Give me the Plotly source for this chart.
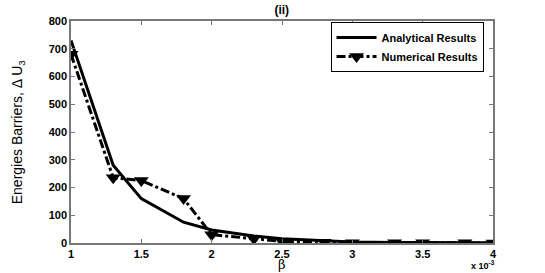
import plotly.graph_objects as go

beta = [1.0, 1.3, 1.5, 1.8, 2.0, 2.3, 2.5, 2.8, 3.0, 3.3, 3.5, 3.8, 4.0]
analytical = [730, 280, 160, 75, 47, 25, 15, 7, 4, 2, 1.5, 1, 0.5]
numerical = [680, 235, 225, 160, 30, 15, 6, 3, 1, 1, 0.5, 0.5, 0.3]
xticks = [1, 1.5, 2, 2.5, 3, 3.5, 4]
yticks = [0, 100, 200, 300, 400, 500, 600, 700, 800]

fig = go.Figure()
fig.add_trace(go.Scatter(x=beta, y=analytical, mode="lines", name="Analytical Results",
                         line=dict(color="black", width=3)))
fig.add_trace(go.Scatter(x=beta, y=numerical, mode="lines+markers", name="Numerical Results",
                         line=dict(color="black", width=3, dash="dashdot"),
                         marker=dict(symbol="triangle-down", size=13, color="black")))

axfont = dict(family="Liberation Sans", size=11, color="black", weight="bold")
fig.update_layout(
    width=545, height=273,
    margin=dict(l=71, r=52, t=21, b=30),
    plot_bgcolor="white", paper_bgcolor="white",
    title=dict(text="<b>(ii)</b>", x=0.517, xanchor="center", y=0.965, yanchor="middle",
               font=dict(family="Liberation Sans", size=12, color="black")),
    xaxis=dict(range=[1, 4], tickvals=xticks, ticktext=[str(t) for t in xticks],
               showgrid=False, zeroline=False, showline=True, linecolor="#777", linewidth=1.5,
               mirror="ticks", ticks="inside", ticklen=4, tickcolor="#777",
               tickfont=axfont, automargin=False),
    yaxis=dict(range=[0, 800], tickvals=yticks, showgrid=False, zeroline=False,
               showline=True, linecolor="#777", linewidth=1.5, mirror="ticks",
               ticks="inside", ticklen=4, tickcolor="#777", tickfont=axfont, automargin=False),
    legend=dict(x=0.615, y=0.995, xanchor="left", yanchor="top",
                bordercolor="black", borderwidth=1, bgcolor="white",
                font=dict(family="Liberation Sans", size=11, color="black", weight="bold"),
                tracegroupgap=0, itemwidth=40),
    showlegend=True,
)
fig.add_annotation(text="Energies Barriers, Δ U<sub>3</sub>", xref="paper", yref="paper",
                   x=-0.125, y=0.5, xanchor="center", yanchor="middle", textangle=-90,
                   showarrow=False, font=dict(family="Liberation Sans", size=14, color="black"))
fig.add_annotation(text="β", xref="paper", yref="paper", x=0.5, y=-0.097,
                   xanchor="center", yanchor="middle", showarrow=False, borderpad=0,
                   font=dict(family="DejaVu Serif", size=13, color="black"))
fig.add_annotation(text="<b>x 10<sup>-3</sup></b>", xref="paper", yref="paper", x=1.01, y=-0.1,
                   xanchor="right", yanchor="middle", showarrow=False,
                   font=dict(family="Liberation Sans", size=9, color="black"))
fig.write_html("out.html", post_script="document.body.style.margin='0';",
               config={"displayModeBar": False})
